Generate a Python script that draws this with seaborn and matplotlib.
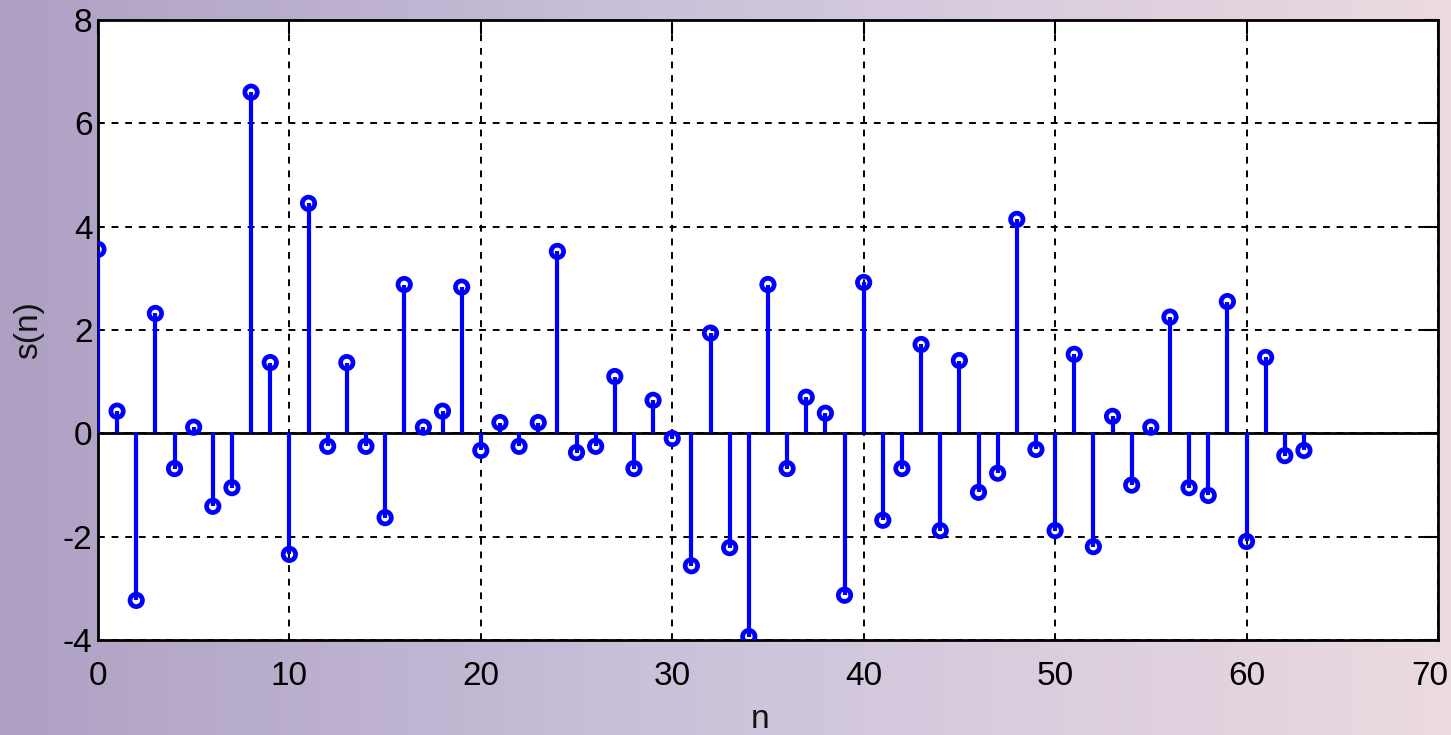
import numpy as np
import seaborn as sns
import matplotlib.pyplot as plt
from matplotlib.colors import LinearSegmentedColormap
from matplotlib.transforms import ScaledTranslation

# sample index and values of s(n)
n_vals = list(range(64))
s_vals = [3.56, 0.43, -3.23, 2.32, -0.68, 0.12, -1.41, -1.05, 6.60, 1.37,
          -2.34, 4.45, -0.25, 1.37, -0.25, -1.63, 2.88, 0.12, 0.43, 2.83,
          -0.33, 0.21, -0.25, 0.21, 3.52, -0.37, -0.25, 1.10, -0.68, 0.64,
          -0.10, -2.56, 1.94, -2.21, -3.93, 2.88, -0.68, 0.70, 0.39, -3.13,
          2.92, -1.68, -0.68, 1.72, -1.88, 1.41, -1.14, -0.77, 4.14, -0.31,
          -1.88, 1.53, -2.19, 0.33, -1.00, 0.12, 2.25, -1.05, -1.20, 2.55,
          -2.09, 1.47, -0.43, -0.33]
x_ticks = [0, 10, 20, 30, 40, 50, 60, 70]
y_ticks = [-4, -2, 0, 2, 4, 6, 8]

sns.set_theme(style="white")
plt.rcParams['font.family'] = ['Liberation Sans', 'DejaVu Sans']
plt.rcParams['axes.unicode_minus'] = False

fig = plt.figure(figsize=(14.51, 7.35), dpi=100)

# gradient background
bg = fig.add_axes([0, 0, 1, 1], zorder=-10)
cmap = LinearSegmentedColormap.from_list("bg", ["#aea0c3", "#cdc4dc", "#ebdae0"])
bg.imshow(np.linspace(0, 1, 256).reshape(1, -1), aspect="auto", cmap=cmap,
          extent=[0, 1, 0, 1])
bg.axis("off")

ax = fig.add_axes([0.0675, 0.129, 0.9235, 0.844])
ax.set_facecolor("white")

ax.vlines(n_vals, 0, s_vals, color="#0000ff", linewidth=3.0, zorder=3)
sns.scatterplot(x=n_vals, y=s_vals, ax=ax, marker="o", s=80,
                facecolor="none", edgecolor="#0000ff", linewidth=3.4, zorder=4)
ax.axhline(0, color="black", linewidth=2, zorder=2)

ax.set_xlim(0, 70)
ax.set_ylim(-4, 8)
ax.set_xticks(x_ticks)
ax.set_yticks(y_ticks)
ax.grid(True, color="black", linestyle=(0, (3.5, 3.5)), linewidth=1.4)
ax.tick_params(direction="in", length=10, width=1.5, top=True, right=True,
               labelsize=24, colors="black")
ax.tick_params(axis="x", pad=15)
ax.tick_params(axis="y", pad=4)
for sp in ax.spines.values():
    sp.set_color("black")
    sp.set_linewidth(2)

# keep the last x label inside the figure
fig.canvas.draw()
last = ax.get_xticklabels()[-1]
last.set_horizontalalignment("right")
last.set_transform(last.get_transform() + ScaledTranslation(10 / 100, 0, fig.dpi_scale_trans))

ax.set_xlabel("n", fontsize=24, color="#111111")
ax.set_ylabel("s(n)", fontsize=24, color="#111111")
ax.xaxis.set_label_coords(0.494, -0.103)
ax.yaxis.set_label_coords(-0.04, 0.5)

fig.savefig("out.png", dpi=100)
